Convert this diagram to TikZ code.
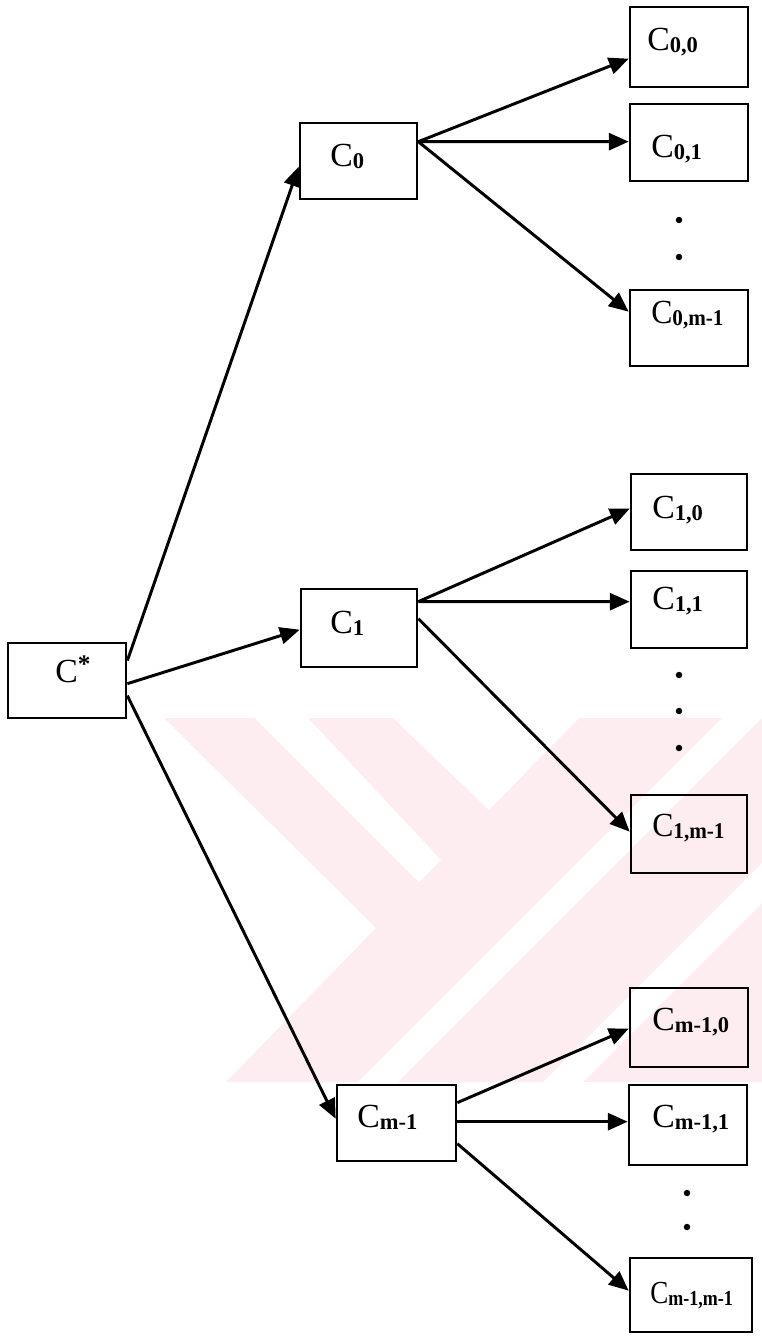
\documentclass[tikz,border=0pt]{standalone}
\usepackage{fontspec}
\setmainfont{Liberation Serif}
\usetikzlibrary{arrows.meta,calc,fit}
\definecolor{wmpink}{RGB}{253,237,241}
% letter C with a bold, slightly lowered index
\newcommand{\csubx}[1]{C\raisebox{-2pt}{\fontsize{16}{16}\selectfont\bfseries #1}}
\begin{document}
\begin{tikzpicture}[x=0.025cm,y=-0.025cm,
  box/.style={draw,line width=1.9pt,inner sep=0pt},
  lbl/.style={anchor=base west,inner sep=0pt,font=\fontsize{24}{26}\selectfont},
  arr/.style={line width=2.1pt,-{Triangle[length=14pt,width=12pt]}},
  dot/.style={circle,fill,inner sep=0pt,minimum size=4.6pt}]
\useasboundingbox (0,0) rectangle (762,1336);

% faint background emblem
\fill[wmpink] (164,718) -- (762,718) -- (762,1082) -- (226,1082) -- (376,928) -- cycle;
\fill[white] (255,718) -- (308,718) -- (441,860) -- (419,882) -- cycle;
\fill[white] (393,718) -- (489,810) -- (579,718) -- cycle;
\fill[white] (722,718) -- (762,718) -- (398,1082) -- (358,1082) -- cycle;
\fill[white] (762,863) -- (762,903) -- (583,1082) -- (543,1082) -- cycle;

% boxes
\node[box,fit={(8,643) (126,718)}] (cs) {};
\node[box,fit={(300,123) (417,199)}] (c0) {};
\node[box,fit={(301,589) (417,667)}] (c1) {};
\node[box,fit={(337,1085) (456,1161)}] (cm) {};
\node[box,fit={(630,7) (748,87)}] (c00) {};
\node[box,fit={(630,104) (748,181)}] (c01) {};
\node[box,fit={(630,290) (748,366)}] (c0m) {};
\node[box,fit={(631,474) (747,550)}] (c10) {};
\node[box,fit={(631,571) (747,648)}] (c11) {};
\node[box,fit={(631,795) (747,873)}] (c1m) {};
\node[box,fit={(630,988) (748,1067)}] (cm0) {};
\node[box,fit={(629,1085) (747,1165)}] (cm1) {};
\node[box,fit={(630,1258) (752,1332)}] (cmm) {};

% labels
\node[lbl] (tcs) at (55,682) {C\raisebox{6.5pt}{\fontsize{18}{18}\selectfont\bfseries *}};
\node[lbl] (tc0) at (330,166) {\csubx{0}};
\node[lbl] (tc1) at (330,633) {\csubx{1}};
\node[lbl] (tcm) at (357,1127) {\csubx{m-1}};
\node[lbl] (tc00) at (647,50) {\csubx{0,0}};
\node[lbl] (tc01) at (651,157) {\csubx{0,1}};
\node[lbl] (tc0m) at (651,323) {\scalebox{0.94}[1]{\csubx{0,m-1}}};
\node[lbl] (tc10) at (652,518) {\csubx{1,0}};
\node[lbl] (tc11) at (652,609) {\csubx{1,1}};
\node[lbl] (tc1m) at (652,836) {\scalebox{0.94}[1]{\csubx{1,m-1}}};
\node[lbl] (tcm0) at (652,1030) {\csubx{m-1,0}};
\node[lbl] (tcm1) at (652,1127) {\csubx{m-1,1}};
\node[lbl] (tcmm) at (650,1303) {\scalebox{0.8}[0.95]{\csubx{m-1,m-1}}};

% ellipsis dots
\node[dot] (d0a) at (679,220) {};
\node[dot] (d0b) at (679,257) {};
\node[dot] (d1a) at (679,675) {};
\node[dot] (d1b) at (679,711) {};
\node[dot] (d1c) at (679,748) {};
\node[dot] (dma) at (687,1193) {};
\node[dot] (dmb) at (687,1227) {};

% root to first level
\draw[arr] ($(cs.north east)+(0,19)$) -- ($(c0.north west)+(0,45)$);
\draw[arr] ($(cs.north east)+(0,42)$) -- ($(c1.north west)+(0,42)$);
\draw[arr] ($(cs.north east)+(0,54)$) -- ($(cm.north west)+(0,35)$);

% C0 branch
\draw[arr] ($(c0.north east)+(0,20)$) -- ($(c00.north west)+(0,53)$);
\draw[arr] ($(c0.north east)+(0,20)$) -- ($(c01.north west)+(0,39)$);
\draw[arr] ($(c0.north east)+(0,20)$) -- ($(c0m.north west)+(0,23)$);

% C1 branch
\draw[arr] ($(c1.north east)+(0,14)$) -- ($(c10.north west)+(0,36)$);
\draw[arr] ($(c1.north east)+(0,14)$) -- ($(c11.north west)+(0,32)$);
\draw[arr] ($(c1.north east)+(0,31)$) -- ($(c1m.north west)+(0,38)$);

% C_{m-1} branch
\draw[arr] ($(cm.north east)+(0,19)$) -- ($(cm0.north west)+(0,42)$);
\draw[arr] ($(cm.north east)+(0,38)$) -- ($(cm1.north west)+(0,38)$);
\draw[arr] ($(cm.north east)+(0,60)$) -- ($(cmm.north west)+(0,34)$);
\end{tikzpicture}
\end{document}
